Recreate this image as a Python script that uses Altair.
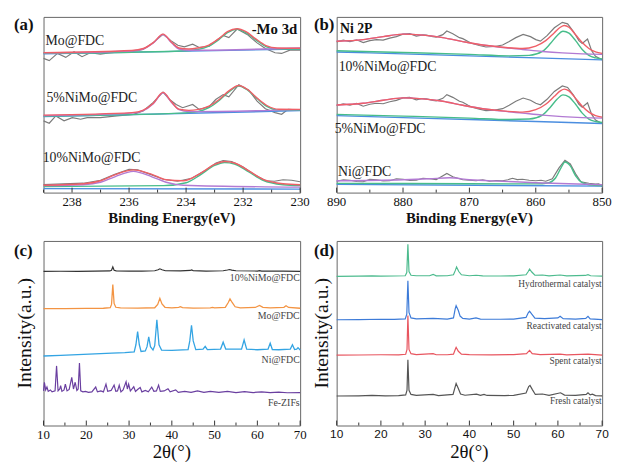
import altair as alt
import pandas as pd

SERIF = "Liberation Serif"
SANS = "Liberation Sans"

# ---------------- (a) Mo 3d XPS ----------------
A_TICKS = [238, 236, 234, 232, 230]
A_MINOR = [239, 237, 235, 233, 231]
A_LABELS = ["Mo@FDC", "5%NiMo@FDC", "10%NiMo@FDC"]
A_LABEL_X = [238.93, 238.9, 239.03]
A_LABEL_Y = [153.7, 96, 35]

A_MO_RAW = [(239.0,136),(238.8,133.7),(238.51,141),(238.22,137),(237.93,142.7),(237.65,137.7),(237.36,141.7),(237.01,140.3),(236.7,141.5),(236.43,142.3),(236.1,142),(235.85,143),(235.51,145),(235.16,151.7),(234.81,160.3),(234.52,153.7),(234.29,149.3),(234.06,147.7),(233.77,150.3),(233.54,147),(233.19,148.3),(232.9,155),(232.7,159.3),(232.5,157),(232.21,165.7),(231.86,160.3),(231.51,151.7),(231.22,146),(230.88,141.7),(230.65,141),(230.36,144.3),(230.0,144.3)]
A_MO_BLUE = [(239,140.5),(230,145.5)]
A_MO_PURPLE = [(239,141.5),(235.9,143.5),(235.5,145.5),(235.15,151.5),(234.81,160),(234.5,151.5),(234.25,145.5),(233.9,144.2),(230,146.5)]
A_MO_GREEN = [(239,141),(234.2,143.4),(233.6,145),(233.2,148.5),(232.85,155),(232.55,162),(232.21,165.5),(231.9,162),(231.57,155),(231.2,148),(230.8,145.5),(230,145.5)]
A_MO_RED = [(239,141.8),(235.9,144),(235.5,146),(235.15,152),(234.81,160.5),(234.5,152),(234.25,146.5),(233.9,145.5),(233.6,146.5),(233.2,149.5),(232.85,156),(232.55,163),(232.21,166),(231.9,163),(231.57,156),(231.2,149),(230.8,146.5),(230,146.2)]

A_5_RAW = [(239.0,72.7),(238.8,70.3),(238.57,77.7),(238.28,72.7),(237.99,76),(237.7,74.3),(237.47,76),(237.01,76),(236.43,77.7),(235.85,79.3),(235.51,82.7),(235.16,91),(234.81,101.7),(234.58,94.3),(234.35,89.3),(234.12,86),(233.77,89.3),(233.54,84.3),(233.19,87),(232.96,94.3),(232.7,99.3),(232.5,97),(232.15,109.3),(231.8,103.7),(231.51,92.7),(231.22,85),(230.88,81),(230.65,79.3),(230.42,84.3),(230.0,83.7)]
A_5_BLUE = [(239,77),(230,83)]
A_5_PURPLE = [(239,78),(235.9,80.5),(235.5,83),(235.15,90),(234.81,101),(234.5,91),(234.25,84),(233.9,82),(230,84)]
A_5_GREEN = [(239,77.5),(234.2,80.5),(233.6,82),(233.2,86),(232.85,93),(232.5,102),(232.15,108),(231.85,104),(231.5,95),(231.15,87),(230.75,83.5),(230,83.5)]
A_5_RED = [(239,78.5),(235.9,81),(235.5,83.5),(235.15,90.5),(234.81,101.5),(234.5,91.5),(234.25,84.5),(233.9,83.3),(233.6,84),(233.2,87.5),(232.85,94),(232.5,103),(232.15,108.5),(231.85,104.5),(231.5,95.5),(231.15,88),(230.75,84.5),(230,84.3)]

A_10_RAW = [(239,8),(237.6,9.5),(237.0,12.5),(236.5,18.5),(236.0,23.5),(235.7,23),(235.3,19),(234.8,13.5),(234.3,11.5),(233.8,14.5),(233.3,23),(232.95,30),(232.7,32.5),(232.4,31.5),(232.0,26),(231.6,18),(231.2,12),(230.9,11.5),(230.6,13),(230.3,12.5),(230,11)]
A_10_BLUE = [(239,4),(230,3.5)]
A_10_PURPLE = [(239,7),(237.6,8),(237.0,10.5),(236.5,16),(235.85,21.5),(235.2,16),(234.7,10.5),(234.1,7.5),(230,5.5)]
A_10_GREEN = [(239,6),(234.8,7),(234.0,10),(233.5,18),(233.0,27.5),(232.65,30.5),(232.3,29),(231.8,21),(231.3,12.5),(230.6,8),(230,7)]
A_10_RED = [(239,7.5),(237.6,9),(237.0,12),(236.5,18),(235.85,23),(235.2,18.5),(234.7,13),(234.1,12),(233.5,19.5),(233.0,28.5),(232.65,31.5),(232.3,30),(231.8,22),(231.3,13.5),(230.6,9),(230,8)]

# ---------------- (b) Ni 2p XPS ----------------
B_TICKS = [890, 880, 870, 860, 850]
B_MINOR = [885, 875, 865, 855]
B_LABELS = ["10%NiMo@FDC", "5%NiMo@FDC", "Ni@FDC"]
B_LABEL_X = [889.7, 890.3, 889.8]
B_LABEL_Y = [126.7, 63.3, 20]

B_10_RAW = [(890,151.7),(889,153.5),(888,152),(887,153.8),(886,151),(885,153),(884,154),(883,153.5),(882,155.5),(881,157),(880,159.5),(879,160),(878,157.5),(877,158.8),(876.5,158.5),(875.5,157),(875,156.5),(874,159),(873.4,162.7),(872.5,160),(871.5,156),(871,155),(870.2,152),(869.6,150),(868.5,148),(867.5,146.5),(866.2,147),(865,148.5),(864,152),(863,156),(861.9,159.3),(860.8,157),(860,154),(859.3,152.5),(858.3,158),(857.2,166),(856,171.5),(855.2,170),(854.3,162),(853.5,153),(853,150),(852.2,154.5),(851.6,143),(851,137),(850,133.5)]
B_10_PURPLE = [(890,152.3),(886,154),(883,157),(880,159.5),(877,158.5),(874,156),(871,152),(868,148.5),(865,146),(862,144),(859,142),(856,140.5),(853,139.5),(850,139)]
B_10_RED = [(890,152.3),(886,154),(883,157),(880,159.5),(877,158.5),(874,156),(871,152),(868,148.5),(865,146.3),(862,145),(860,147.5),(858.5,153),(857.2,161),(856.3,166.5),(855.7,168.3),(855,166.5),(854,159),(853,151),(852,145),(851,141.5),(850,140)]
B_10_GREEN = [(890,142.7),(880,141),(870,139),(864,137.5),(861,138),(859,142),(857.8,150),(856.8,158),(855.9,162.5),(855,160.5),(854,153),(853,144),(852,138),(851,135.5),(850,134.5)]
B_10_BLUE = [(890,141.5),(880,139.5),(870,137.5),(860,135.5),(850,133.5)]

B_5_RAW = [(890,87.2),(889,89),(888,87.5),(887,89.3),(886,86.5),(885,88.5),(884,89.5),(883,89),(882,91),(881,92.5),(880,95),(879,95.5),(878,93),(877,94.3),(876.5,94),(875.5,92.5),(875,92),(874,94.5),(873.4,98.2),(872.5,95.5),(871.5,91.5),(871,90.5),(870.2,87.5),(869.6,85.5),(868.5,83.5),(867.5,82),(866.2,82.5),(865,84),(864,87.5),(863,91.5),(861.9,94.8),(860.8,92.5),(860,89.5),(859.3,88),(858.3,93.5),(857.2,101.5),(856,107),(855.2,105.5),(854.3,97.5),(853.5,88.5),(853,85.5),(852.2,90),(851.6,78.5),(851,72.5),(850,69)]
B_5_PURPLE = [(890,87.8),(886,89.5),(883,92.5),(880,95),(877,94),(874,91.5),(871,87.5),(868,84),(865,81.5),(862,79.5),(859,77.5),(856,76),(853,75),(850,74.5)]
B_5_RED = [(890,87.8),(886,89.5),(883,92.5),(880,95),(877,94),(874,91.5),(871,87.5),(868,84),(865,81.8),(862,80.5),(860,83),(858.5,88.5),(857.2,96.5),(856.3,102),(855.7,103.8),(855,102),(854,94.5),(853,86.5),(852,80.5),(851,77),(850,75.5)]
B_5_GREEN = [(890,78.2),(880,76.5),(870,74.5),(864,73),(861,73.5),(859,77.5),(857.8,85.5),(856.8,93.5),(855.9,98),(855,96),(854,88.5),(853,79.5),(852,73.5),(851,71),(850,70)]
B_5_BLUE = [(890,77),(880,75),(870,73),(860,71),(850,69)]

B_NI_RAW = [(890,10.5),(889,11.8),(888,11.5),(887,10.2),(886,10),(885,12.3),(884,12),(883,10.8),(882,11),(881,13),(880,12.5),(879,11.3),(878,11.5),(877,13.5),(876,13),(875,12.2),(874.5,14),(873.4,18.3),(872.5,15),(871,12),(870,11.5),(869,11),(868,12),(867,10.5),(866,11.2),(865,11),(864.2,12),(863.5,13.5),(862.8,12.2),(862,12.5),(861,11.5),(860,11),(859.2,11.5),(858.5,10.5),(857.5,13),(856.5,24),(855.6,31.7),(854.8,28),(854,18),(853.2,10),(852,8.5),(851,7.5),(850.5,7.8),(850,5)]
B_NI_PURPLE = [(890,11),(880,12),(876,13),(873,14),(870,12),(865,10.5),(860,9),(855,8),(850,7)]
B_NI_GREEN = [(890,8.3),(870,8),(860,7.8),(858,9),(857,14),(856.2,24),(855.6,30),(854.8,26),(854,16),(853,9),(852,7),(850,6)]
B_NI_BLUE = [(890,7.3),(850,5.5)]

# ---------------- (c) XRD ----------------
C_TICKS = [10, 20, 30, 40, 50, 60, 70]
C_MINOR = [15, 25, 35, 45, 55, 65]
C_LABELS = ["10%NiMo@FDC", "Mo@FDC", "Ni@FDC", "Fe-ZIFs"]
C_LABEL_Y = [153.3, 114.3, 68.3, 23.3]
C_10 = [(10,160.3),(14,160.5),(18,160.4),(22,160.6),(25.5,160.8),(25.9,161.5),(26.2,165),(26.5,161.5),(27,160.8),(30,160.6),(33,160.7),(36,161),(36.8,162),(37.2,163),(37.7,162),(38.5,161),(42,160.8),(44.3,161.3),(44.6,161.8),(45,161.2),(48,160.7),(52,161),(53,161.8),(53.5,162.3),(54,161.6),(55,161),(60,160.7),(60.5,161.2),(61,160.7),(66,160.6),(70,160.4)]
C_MO = [(10,121.5),(15,121.6),(20,121.8),(24,122),(25.6,122.5),(25.9,126),(26.2,146.7),(26.5,127),(26.9,123),(28,122.3),(32,122.2),(36,122.5),(36.7,126),(37.2,132.3),(37.7,126.5),(38.4,123),(40,122.3),(41.6,123),(42,123.6),(42.5,122.7),(45,122.2),(49,122.3),(49.5,122.8),(50,122.3),(52.5,123),(53.2,128),(53.6,131.7),(54.1,128),(54.8,123.5),(56,122.4),(59.5,122.8),(60.5,125),(61.3,123),(63,122.3),(66.2,123),(66.7,124.5),(67.3,122.8),(70,122)]
C_NI = [(10,72.3),(14,73),(18,73.8),(22,74.5),(26,75.2),(29,75.8),(31.2,76.5),(31.6,84),(32.0,97.7),(32.4,84),(32.8,77),(33.8,77.5),(34.2,82),(34.6,92.3),(35.0,82),(35.6,78.5),(36.0,83),(36.5,110),(37.0,84),(37.6,78.5),(40,78.2),(43.8,79),(44.2,88),(44.6,104.3),(45.0,88),(45.6,79),(47.3,79.5),(47.8,82.3),(48.3,79),(51.4,79.5),(52.0,86.7),(52.6,79.5),(56.3,79.5),(56.9,89),(57.5,79.5),(60,78.8),(62.5,79.5),(63.0,85.7),(63.5,79),(65,78.8),(67.7,79.5),(68.2,84),(68.7,79),(69.2,79.5),(69.5,81),(70,78.5)]
C_FE = [(10,36),(10.2,45),(10.5,37),(10.8,40),(11.1,35.5),(11.6,37),(12,35),(12.7,36),(13.05,62),(13.4,36),(13.8,38),(14.0,41.5),(14.3,35.5),(14.8,37),(15.1,43),(15.5,36),(16.0,37.5),(16.6,50),(17.0,38),(17.4,45),(17.8,36.5),(18.1,38),(18.4,65),(18.7,36),(19.2,35),(19.8,35.5),(20.5,34.5),(21.3,35),(22.2,40),(22.6,35),(23.4,36),(24.0,35),(24.6,43),(25.0,35.5),(25.8,36.5),(26.5,42),(26.9,35.5),(27.3,36),(27.7,42),(28.1,35),(28.6,37),(29.3,45.5),(29.6,38),(29.9,43),(30.3,36),(30.7,38),(31.1,40.3),(31.5,35.5),(32.0,37.5),(32.6,39.5),(33.0,35),(33.8,36.5),(34.5,35),(35.3,40),(35.8,35.5),(36.4,36),(36.9,42),(37.3,35.5),(38.2,36),(39.1,38.3),(39.6,35),(40.9,37),(41.5,34.5),(43,35.5),(44.5,34.5),(46,36),(47.5,34.5),(49,35.5),(51,34.5),(53,35.5),(55,34.2),(57,35.3),(59,34.3),(61,35),(63,34.2),(65,34.8),(67,34.1),(70,34.3)]

# ---------------- (d) XRD catalysts ----------------
D_TICKS = [10, 20, 30, 40, 50, 60, 70]
D_MINOR = [15, 25, 35, 45, 55, 65]
D_LABELS = ["Hydrothermal catalyst", "Reactivated catalyst", "Spent catalyst", "Fresh catalyst"]
D_LABEL_Y = [152.7, 107.7, 70, 26]
D_HYD = [(10,160.8),(15,161),(18,161.3),(20,161),(23,161.2),(25.5,161.5),(25.85,165),(26.1,195.3),(26.35,166),(26.8,162),(28,161.5),(31,161.5),(31.8,163),(32.5,161.4),(35,161.5),(36.4,162.5),(36.8,167),(37.1,171),(37.6,166),(38.2,162.5),(40,161.5),(41.5,162),(43,161.3),(47,161.2),(50,161.4),(52.8,162.5),(53.3,166),(53.6,168.7),(54.1,165.5),(54.8,162),(56.5,162.3),(58,161.3),(60.5,162.3),(62,161.4),(66.2,161.8),(66.8,162.7),(67.4,161.5),(70,161)]
D_REA = [(10,114),(15,114.2),(20,114.6),(23,114.5),(25.5,115),(25.85,120),(26.1,156),(26.35,122),(26.8,116),(28,115),(31.8,115.5),(35,114.8),(36.4,116),(36.8,126),(37.0,129.3),(37.5,124),(37.9,118),(38.5,115.5),(40,114.8),(41.5,116),(42.5,114.8),(47,114.6),(50,114.8),(52.8,116.5),(53.3,121.5),(53.6,123.3),(54.1,120),(54.8,115.8),(57,115.2),(60,116),(60.5,117.7),(61.2,115.2),(64,114.8),(66.3,115.5),(66.8,117.7),(67.3,115),(70,114.2)]
D_SPE = [(10,75.8),(15,76),(20,76.3),(24,76.2),(25.6,76.8),(25.9,82),(26.1,118.7),(26.35,82),(26.8,77.5),(28,76.5),(31.8,77.5),(32.5,76.3),(35,76.3),(36.4,77),(36.8,82),(37.0,84.3),(37.5,80),(38.2,77),(40,76.4),(45,76.2),(50,76.4),(52.9,77.5),(53.6,81),(54.2,77.5),(56,76.4),(60.5,77),(62,76.2),(66.8,77),(70,75.8)]
D_FRE = [(10,31.8),(15,32),(18,32.4),(21,32),(24,32.3),(25.6,33),(25.9,38),(26.1,71),(26.35,38),(26.8,33.5),(28,32.5),(31.8,33.5),(33,32.3),(36.3,33.5),(36.8,42),(37.0,45.3),(37.5,40),(38.0,34),(39,32.6),(41.6,33.8),(42.5,32.5),(43.3,33.6),(44,32.4),(48,32.3),(50,32.5),(52.8,35),(53.4,42),(53.7,43.3),(54.2,39),(54.9,33.5),(56.5,34),(58,32.6),(60.6,35.3),(61.5,32.8),(64,32.4),(66.4,33.5),(66.8,35.3),(67.3,33),(67.8,33.8),(68.5,32.3),(70,32)]

XPS_COLORS = {"raw": "#7b7b7b", "blue": "#4b8ee0", "green": "#47bd8a", "purple": "#b27ad3", "red": "#ef5f67"}


def to_df(groups):
    rows = []
    for name, pts in groups:
        for x, y in pts:
            rows.append({"s": name, "x": x, "y": y})
    return pd.DataFrame(rows)


def make_panel(curves, xdom, ydom, w, h, texts, letter, ticks, minor,
               tick_font, tick_size, xtitle, xtitle_size, xtitle_weight, xtitle_y,
               ytitle_x=None, ytitle_size=20):
    xs = alt.Scale(domain=xdom, nice=False, zero=False)
    ys = alt.Scale(domain=ydom, nice=False, zero=False)
    X = alt.X("x:Q", scale=xs, axis=None)
    Y = alt.Y("y:Q", scale=ys, axis=None)
    layers = []
    for color, width, interp, groups in curves:
        layers.append(
            alt.Chart(to_df(groups)).mark_line(color=color, strokeWidth=width, interpolate=interp)
            .encode(x=X, y=Y, detail="s:N")
        )
    for tdf, props in texts:
        layers.append(alt.Chart(tdf).mark_text(**props).encode(x=X, y=Y, text="t:N"))
    layers.append(
        alt.Chart(pd.DataFrame({"x": ticks})).mark_rule(color="#333", strokeWidth=1)
        .encode(x=X, y=alt.value(h), y2=alt.value(h - 5))
    )
    layers.append(
        alt.Chart(pd.DataFrame({"x": minor})).mark_rule(color="#333", strokeWidth=1)
        .encode(x=X, y=alt.value(h), y2=alt.value(h - 3))
    )
    layers.append(
        alt.Chart(pd.DataFrame({"x": ticks, "t": [str(v) for v in ticks]}))
        .mark_text(font=tick_font, fontSize=tick_size, align="center", baseline="top", color="#111")
        .encode(x=X, y=alt.value(h + 4), text="t:N")
    )
    layers.append(
        alt.Chart(pd.DataFrame({"x": [xdom[0] + (xdom[1] - xdom[0]) / 2], "t": [xtitle]}))
        .mark_text(font=SERIF, fontSize=xtitle_size, fontWeight=xtitle_weight, align="center",
                   baseline="top", color="#111")
        .encode(x=X, y=alt.value(h + xtitle_y), text="t:N")
    )
    if ytitle_x is not None:
        layers.append(
            alt.Chart(pd.DataFrame({"y": [ydom[0] + (ydom[1] - ydom[0]) / 2], "t": ["Intensity(a.u.)"]}))
            .mark_text(font=SERIF, fontSize=ytitle_size, angle=270, align="center",
                       baseline="bottom", color="#111")
            .encode(x=alt.value(ytitle_x), y=Y, text="t:N")
        )
    lx, ly = letter[1], letter[2]
    layers.append(
        alt.Chart(pd.DataFrame({"t": [letter[0]]}))
        .mark_text(font=SERIF, fontSize=17, fontWeight="bold", align="left", baseline="top", color="#111")
        .encode(x=alt.value(lx), y=alt.value(ly), text="t:N")
    )
    return alt.layer(*layers).properties(width=w, height=h)


lab = dict(font=SERIF, fontSize=14, align="left", baseline="middle", color="#222")

# panel a
a_curves = [
    (XPS_COLORS["raw"], 1.2, "linear", [("m", A_MO_RAW), ("f", A_5_RAW), ("t", A_10_RAW)]),
    (XPS_COLORS["blue"], 1.4, "monotone", [("m", A_MO_BLUE), ("f", A_5_BLUE), ("t", A_10_BLUE)]),
    (XPS_COLORS["green"], 1.4, "monotone", [("m", A_MO_GREEN), ("f", A_5_GREEN), ("t", A_10_GREEN)]),
    (XPS_COLORS["purple"], 1.4, "monotone", [("m", A_MO_PURPLE), ("f", A_5_PURPLE), ("t", A_10_PURPLE)]),
    (XPS_COLORS["red"], 1.4, "monotone", [("m", A_MO_RED), ("f", A_5_RED), ("t", A_10_RED)]),
]
a_texts = [
    (pd.DataFrame({"x": A_LABEL_X, "y": A_LABEL_Y, "t": A_LABELS}), lab),
    (pd.DataFrame({"x": [230.1], "y": [166], "t": ["-Mo 3d"]}),
     dict(font=SERIF, fontSize=15, fontWeight="bold", align="right", baseline="middle", color="#111")),
]
panel_a = make_panel(a_curves, [239, 230], [0, 178], 260, 178, a_texts, ("(a)", -30, 0),
                     A_TICKS, A_MINOR, SERIF, 13, "Binding Energy(eV)", 15, "bold", 19)

# panel b
b_curves = [
    (XPS_COLORS["raw"], 1.2, "linear", [("a", B_10_RAW), ("b", B_5_RAW), ("c", B_NI_RAW)]),
    (XPS_COLORS["blue"], 1.4, "monotone", [("a", B_10_BLUE), ("b", B_5_BLUE), ("c", B_NI_BLUE)]),
    (XPS_COLORS["green"], 1.4, "monotone", [("a", B_10_GREEN), ("b", B_5_GREEN), ("c", B_NI_GREEN)]),
    (XPS_COLORS["purple"], 1.4, "monotone", [("a", B_10_PURPLE), ("b", B_5_PURPLE), ("c", B_NI_PURPLE)]),
    (XPS_COLORS["red"], 1.4, "monotone", [("a", B_10_RED), ("b", B_5_RED)]),
]
b_texts = [
    (pd.DataFrame({"x": B_LABEL_X, "y": B_LABEL_Y, "t": B_LABELS}), lab),
    (pd.DataFrame({"x": [889.5], "y": [165], "t": ["Ni 2P"]}),
     dict(font=SERIF, fontSize=14, fontWeight="bold", align="left", baseline="middle", color="#111")),
]
panel_b = make_panel(b_curves, [890, 850], [-1, 177], 269, 178, b_texts, ("(b)", -23, 0),
                     B_TICKS, B_MINOR, SERIF, 13, "Binding Energy(eV)", 15, "bold", 19)

# panel c
c_curves = [
    ("#6a3fa0", 1.2, "linear", [("fe", C_FE)]),
    ("#33a4e3", 1.3, "linear", [("ni", C_NI)]),
    ("#f39443", 1.3, "linear", [("mo", C_MO)]),
    ("#333333", 1.2, "linear", [("nm", C_10)]),
]
c_texts = [
    (pd.DataFrame({"x": [69.9] * 4, "y": C_LABEL_Y, "t": C_LABELS}),
     dict(font=SERIF, fontSize=10, align="right", baseline="middle", color="#444")),
]
panel_c = make_panel(c_curves, [10, 70], [0, 192], 260, 187, c_texts, ("(c)", -30, 2),
                     C_TICKS, C_MINOR, SERIF, 13, "2θ(°)", 19, "normal", 18, ytitle_x=-9, ytitle_size=20)

# panel d
d_curves = [
    ("#555555", 1.2, "linear", [("fr", D_FRE)]),
    ("#e8555f", 1.2, "linear", [("sp", D_SPE)]),
    ("#3d7bd8", 1.2, "linear", [("re", D_REA)]),
    ("#4dbb8e", 1.2, "linear", [("hy", D_HYD)]),
]
d_texts = [
    (pd.DataFrame({"x": [69.9] * 4, "y": D_LABEL_Y, "t": D_LABELS}),
     dict(font=SERIF, fontSize=9.5, align="right", baseline="middle", color="#444")),
]
panel_d = make_panel(d_curves, [10, 70], [0, 199], 269, 187, d_texts, ("(d)", -23, 2),
                     D_TICKS, D_MINOR, SANS, 12, "2θ(°)", 19, "normal", 18, ytitle_x=-5, ytitle_size=20)

chart = alt.concat(panel_a, panel_b, panel_c, panel_d, columns=2,
                   spacing={"row": 13, "column": 0}).properties(
    padding={"left": 5, "top": 4, "right": 0, "bottom": 0}
).configure_view(stroke="#666", strokeWidth=1)

chart.save("out.html", embed_options={"renderer": "svg", "actions": False})
